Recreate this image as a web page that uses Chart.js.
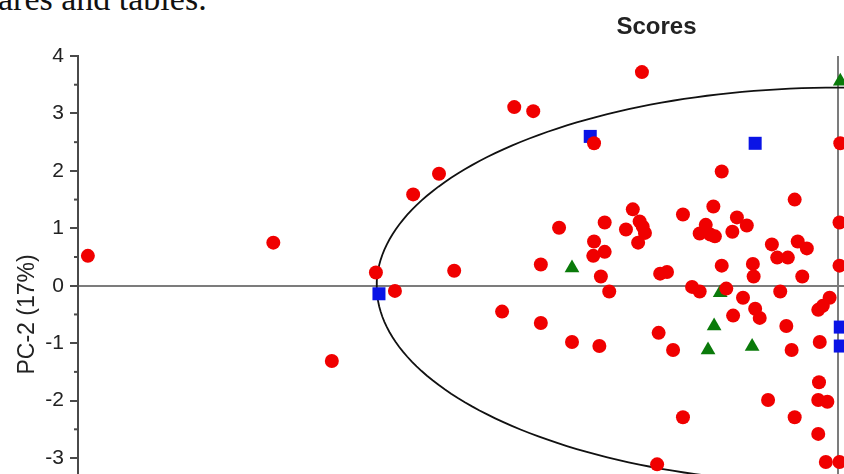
<!DOCTYPE html>
<html>
<head>
<meta charset="utf-8">
<script src="https://cdn.jsdelivr.net/npm/chart.js@4/dist/chart.umd.min.js"></script>
<style>
  html, body { margin: 0; padding: 0; background: #fff; overflow: hidden; width: 844px; height: 474px; }
  #caption {
    position: absolute; left: -2px; top: -20px;
    font-family: "Liberation Serif", "Times New Roman", serif;
    font-size: 34px; color: #111; white-space: nowrap;
  }
  #wrap { position: absolute; left: 0; top: 0; width: 1333px; height: 620px; }
</style>
</head>
<body>
<div id="caption">ares and tables.</div>
<div id="wrap"><canvas id="scores" width="1333" height="620"></canvas></div>
<script>
// PC-2 axis tick values
const pc2Ticks = [4, 3, 2, 1, 0, -1, -2, -3, -4, -5];

// Group A samples (red circles)
const groupA_pc1 = [
  -9.87, -7.43, -6.66, -6.08, -5.83, -5.59, -5.25, -5.05, -4.26, -4.01,
  -2.58, -3.21, -3.67, -3.91, -4.42, -3.91, -3.50, -3.14, -2.36, -2.17,
  -2.04, -2.38, -1.38, -1.09, -1.03, -0.68, -0.61, -0.92, -0.57, -0.25,
  -0.26, -0.14, -0.26, -0.16, 0.02, -0.24, -1.53, -0.57, -2.70, -2.04,
  -1.64, -3.07, -2.79, -2.61, -2.57, -2.54, -2.63, -3.21, -3.07, -3.22,
  -3.12, -3.01, -2.34, -2.25, -1.74, -1.82, -1.68, -1.62, -1.33, -1.20,
  -1.39, -0.87, -0.53, -0.41, -0.80, -0.66, -1.53, -1.12, -1.11, -0.47,
  0.02, 0.02, -1.92, -1.82, -1.47, -1.25, -0.76, -0.11, -0.20, -0.26,
  0.03
];
const groupA_pc2 = [
  0.52, 0.75, -1.31, 0.23, -0.09, 1.59, 1.95, 0.26, 3.11, 3.04,
  3.72, 2.48, 1.01, 0.37, -0.45, -0.65, -0.98, -1.05, -0.82, -1.12,
  -2.29, -3.11, -0.52, -0.40, -0.56, -0.70, -1.12, -1.99, -2.29, -1.68,
  -1.99, -2.02, -2.58, -3.07, -3.07, -0.98, 1.99, 1.50, 1.33, 1.24,
  1.38, 1.10, 0.98, 1.12, 1.03, 0.92, 0.75, 0.77, 0.59, 0.52,
  0.16, -0.10, 0.21, 0.24, 1.06, 0.91, 0.89, 0.86, 1.19, 1.05,
  0.94, 0.72, 0.77, 0.65, 0.49, 0.49, 0.35, 0.38, 0.16, 0.16,
  1.10, 0.35, -0.02, -0.10, -0.05, -0.21, -0.10, -0.21, -0.35, -0.42,
  2.48
];

// Group B samples (blue squares)
const groupB_pc1 = [-6.04, -3.26, -1.09, 0.03, 0.03];
const groupB_pc2 = [-0.14, 2.60, 2.48, -0.72, -1.05];

// Group C samples (green triangles)
const groupC_pc1 = [-3.50, -1.55, -1.63, -1.71, -1.13, 0.03];
const groupC_pc2 = [0.31, -0.12, -0.70, -1.12, -1.06, 3.56];

// Hotelling T² ellipse semi-axes (PC-1, PC-2)
const ELLIPSE_RX = 6.07;
const ELLIPSE_RY = 3.45;

const AXIS_COLOR = '#4a4a4a';
const ZERO_COLOR = '#7c7c7c';
const TEXT_COLOR = '#222';
const SANS = 'Arial, "Liberation Sans", sans-serif';

function pairs(xs, ys) {
  return xs.map((x, i) => ({ x: x, y: ys[i] }));
}

function ellipsePoints(rx, ry, n) {
  const pts = [];
  for (let i = 0; i <= n; i++) {
    const t = (i / n) * Math.PI * 2;
    pts.push({ x: rx * Math.cos(t), y: ry * Math.sin(t) });
  }
  return pts;
}

// Short half-unit tick marks on the PC-2 axis
const minorTicks = {
  id: 'minorTicks',
  afterDraw(chart) {
    const s = chart.scales.y;
    const ctx = chart.ctx;
    ctx.save();
    ctx.strokeStyle = AXIS_COLOR;
    ctx.lineWidth = 2;
    for (let v = Math.floor(s.min); v < s.max; v++) {
      const py = s.getPixelForValue(v + 0.5);
      ctx.beginPath();
      ctx.moveTo(s.right - 4, py);
      ctx.lineTo(s.right, py);
      ctx.stroke();
    }
    ctx.restore();
  }
};

new Chart(document.getElementById('scores'), {
  type: 'scatter',
  data: {
    datasets: [
      {
        label: 'A',
        data: pairs(groupA_pc1, groupA_pc2),
        pointStyle: 'circle',
        pointRadius: 7,
        backgroundColor: '#f00000',
        borderColor: '#f00000',
        borderWidth: 0
      },
      {
        label: 'B',
        data: pairs(groupB_pc1, groupB_pc2),
        pointStyle: 'rect',
        pointRadius: 9.2,
        backgroundColor: '#0a14e6',
        borderColor: '#0a14e6',
        borderWidth: 0
      },
      {
        label: 'C',
        data: pairs(groupC_pc1, groupC_pc2),
        pointStyle: 'triangle',
        pointRadius: 8.5,
        backgroundColor: '#0a7a0a',
        borderColor: '#0a7a0a',
        borderWidth: 0
      },
      {
        label: 'Hotelling T²',
        data: ellipsePoints(ELLIPSE_RX, ELLIPSE_RY, 240),
        showLine: true,
        pointRadius: 0,
        borderColor: '#111',
        borderWidth: 1.8,
        fill: false,
        tension: 0
      }
    ]
  },
  options: {
    responsive: false,
    animation: false,
    events: [],
    layout: { padding: { top: 0, left: 0, right: 20, bottom: 0 } },
    plugins: {
      legend: { display: false },
      tooltip: { enabled: false },
      title: {
        display: true,
        text: 'Scores',
        color: TEXT_COLOR,
        font: { family: SANS, size: 24, weight: 'bold' },
        padding: { top: 13, bottom: 14.2 }
      }
    },
    scales: {
      x: {
        type: 'linear',
        min: -10,
        max: 6.25,
        afterFit(scale) { scale.height = 47.1; },
        ticks: {
          stepSize: 1,
          color: TEXT_COLOR,
          font: { family: SANS, size: 21 }
        },
        border: { display: true, color: AXIS_COLOR, width: 2 },
        grid: {
          color: (c) => (c.tick && c.tick.value === 0 ? ZERO_COLOR : 'rgba(0,0,0,0)'),
          lineWidth: 2,
          drawTicks: true,
          tickLength: 8,
          tickColor: AXIS_COLOR,
          tickWidth: 2
        }
      },
      y: {
        type: 'linear',
        min: -5,
        max: 4,
        afterFit(scale) { scale.width = 78; },
        afterBuildTicks(scale) { scale.ticks = pc2Ticks.map(v => ({ value: v })); },
        ticks: {
          color: TEXT_COLOR,
          padding: 6,
          font: { family: SANS, size: 21 }
        },
        title: {
          display: true,
          text: 'PC-2 (17%)',
          color: TEXT_COLOR,
          font: { family: SANS, size: 23 },
          padding: { top: 14, bottom: 4 }
        },
        border: { display: true, color: AXIS_COLOR, width: 2 },
        grid: {
          color: (c) => (c.tick && c.tick.value === 0 ? ZERO_COLOR : 'rgba(0,0,0,0)'),
          lineWidth: 2,
          drawTicks: true,
          tickLength: 8,
          tickColor: AXIS_COLOR,
          tickWidth: 2
        }
      }
    }
  },
  plugins: [minorTicks]
});
</script>
</body>
</html>
